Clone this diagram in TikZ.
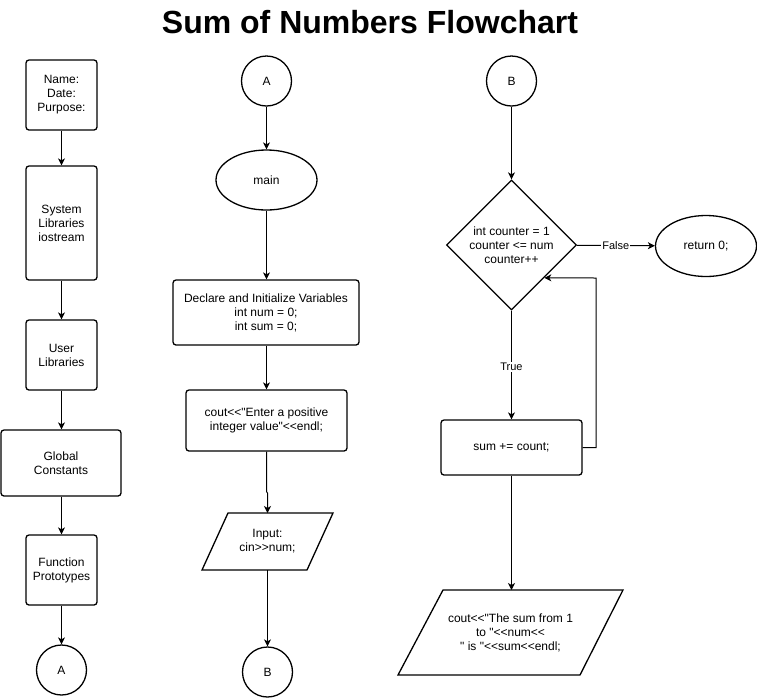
\documentclass[tikz,border=0pt]{standalone}
\usepackage{fontspec}
\setmainfont{Liberation Sans}[Ligatures=TeXOff]
\usetikzlibrary{shapes.geometric,arrows.meta,calc}
\tikzset{
  base/.style={draw, line width=1.3pt, font=\fontsize{12pt}{14pt}\selectfont, align=center, inner sep=0pt},
  box/.style={base, rectangle, rounded corners=3pt},
  conn/.style={base, circle, minimum size=50pt},
  oval/.style={base, ellipse},
  decision/.style={base, diamond, minimum width=130pt, minimum height=130pt},
  txt/.style={font=\fontsize{12pt}{14pt}\selectfont, align=center, inner sep=0pt},
  para/.style={line width=1.3pt, line join=miter},
  arr/.style={line width=1pt, -{Stealth[length=7pt,width=7pt,inset=2pt]}},
  lab/.style={font=\fontsize{11pt}{13pt}\selectfont, fill=white, inner sep=1pt}
}
\begin{document}
\begin{tikzpicture}[x=1pt,y=-1pt]
\useasboundingbox (0,0) rectangle (757,697);
% title
\node[font=\fontsize{32pt}{36pt}\selectfont\bfseries, anchor=base] (title) at (370,33) {Sum of Numbers Flowchart};
% left column
\node[box, minimum width=71pt, minimum height=70pt] (n1) at (61.5,95) {Name:\\Date:\\Purpose:};
\node[box, minimum width=71pt, minimum height=114pt] (n2) at (61.5,223) {System\\Libraries\\iostream};
\node[box, minimum width=71pt, minimum height=70pt] (n3) at (61.5,355) {User\\Libraries};
\node[box, minimum width=120pt, minimum height=66pt] (n4) at (61,463) {Global\\Constants};
\node[box, minimum width=71pt, minimum height=70pt] (n5) at (61.5,570) {Function\\Prototypes};
\node[conn] (cA) at (61.5,670) {A};
\draw[arr] (n1) -- (n2);
\draw[arr] (n2) -- (n3);
\draw[arr] (n3.south) -- (n4.north -| n3.south);
\draw[arr] (n4.south -| n5.north) -- (n5);
\draw[arr] (n5) -- (cA);
% middle column
\node[conn] (mA) at (266.5,81) {A};
\node[oval, minimum width=101pt, minimum height=60pt] (main) at (266.5,180) {main};
\node[box, minimum width=186pt, minimum height=65pt] (decl) at (266,312.5) {Declare and Initialize Variables\\int num = 0;\\int sum = 0;};
\node[box, minimum width=161pt, minimum height=61pt] (cout) at (266.5,420.5) {cout<<"Enter a positive\\integer value"<<endl;};
\draw[para] (228,513) -- (333,513) -- (307,570) -- (202,570) -- cycle;
\node[txt] (inp) at (267.5,541.5) {Input:\\cin>>num;};
\coordinate (inptop) at (267.5,513);
\coordinate (inpbot) at (267.5,570);
\node[conn] (mB) at (267.5,672) {B};
\draw[arr] (mA) -- (main);
\draw[arr] (main.south) -- (decl.north -| main.south);
\draw[arr] (decl.south -| cout.south) -- (cout.south |- decl.south) -- (cout.north);
\draw[arr] (cout.south) -- ++(0,40) -- (inptop |- 0,493) -- (inptop);
\draw[arr] (inpbot) -- (mB);
% right column
\node[conn] (rB) at (511.5,81) {B};
\node[decision] (dia) at (511.5,245) {int counter = 1\\counter <= num\\counter++};
\node[oval, minimum width=101pt, minimum height=61pt] (ret) at (706,246) {return 0;};
\node[box, minimum width=141pt, minimum height=55pt] (sum) at (511.5,447.5) {sum += count;};
\draw[para] (443,590) -- (623,590) -- (580,675) -- (398,675) -- cycle;
\node[txt] (outp) at (510.5,633) {cout<<"The sum from 1\\to "<<num<<\\" is "<<sum<<endl;};
\coordinate (outtop) at (511.5,590);
\coordinate (loopx) at (596,0);
\draw[arr] (rB) -- (dia);
\draw[arr] (dia) -- node[lab] {False} (ret);
\draw[arr] (dia.south) -- node[lab, pos=0.52] {True} (sum.north);
\draw[arr] (sum.east) -| (loopx |- 0,278) -- ($(dia.east)!0.5!(dia.south)$);
\draw[arr] (sum.south) -- (outtop);
\end{tikzpicture}
\end{document}
